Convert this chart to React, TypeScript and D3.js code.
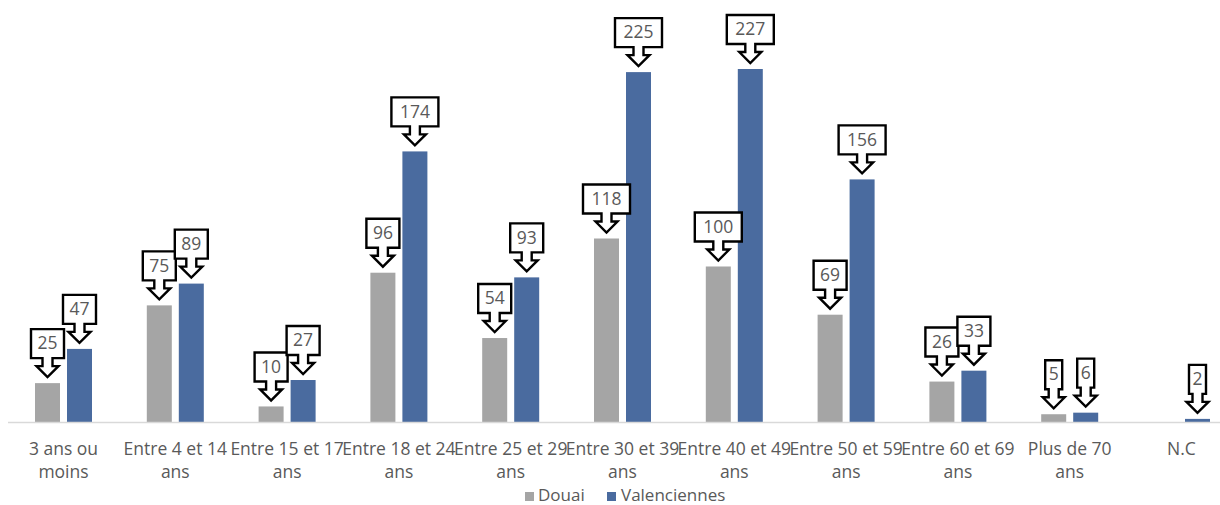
import React from "react";
import * as d3 from "d3";

const categories: string[][] = [
  ["3 ans ou", "moins"],
  ["Entre 4 et 14", "ans"],
  ["Entre 15 et 17", "ans"],
  ["Entre 18 et 24", "ans"],
  ["Entre 25 et 29", "ans"],
  ["Entre 30 et 39", "ans"],
  ["Entre 40 et 49", "ans"],
  ["Entre 50 et 59", "ans"],
  ["Entre 60 et 69", "ans"],
  ["Plus de 70", "ans"],
  ["N.C"],
];
const douai: (number | null)[] = [25, 75, 10, 96, 54, 118, 100, 69, 26, 5, null];
const valenciennes: (number | null)[] = [47, 89, 27, 174, 93, 225, 227, 156, 33, 6, 2];
const seriesNames = ["Douai", "Valenciennes"];
const seriesColors = ["#a5a5a5", "#4a6b9f"];

const W = 1220;
const H = 505;
const FONT = "'Open Sans', Lato, sans-serif";
const TEXT = "#595959";

function Callout({ cx, top, value }: { cx: number; top: number; value: number }) {
  const label = String(value);
  const boxW = label.length === 1 ? 17 : label.length === 2 ? 33 : 47;
  const boxH = 29;
  const tip = top - 6;
  const headTop = tip - 11;
  const boxBottom = headTop - 8;
  const boxTop = boxBottom - boxH;
  const sh = 5;
  const hh = 11;
  const l = cx - boxW / 2;
  const r = cx + boxW / 2;
  const path = [
    `M${l},${boxTop}`,
    `L${r},${boxTop}`,
    `L${r},${boxBottom}`,
    `L${cx + sh},${boxBottom}`,
    `L${cx + sh},${headTop}`,
    `L${cx + hh},${headTop}`,
    `L${cx},${tip}`,
    `L${cx - hh},${headTop}`,
    `L${cx - sh},${headTop}`,
    `L${cx - sh},${boxBottom}`,
    `L${l},${boxBottom}`,
    "Z",
  ].join("");
  return (
    <g>
      <path d={path} fill="#fff" stroke="#000" strokeWidth={2.4} strokeLinejoin="miter" />
      <text
        x={cx}
        y={(boxTop + boxBottom) / 2 + 1}
        textAnchor="middle"
        dominantBaseline="middle"
        fontSize={17.5}
        fill={TEXT}
        fontFamily={FONT}
      >
        {label}
      </text>
    </g>
  );
}

export default function App() {
  const baseline = 422;
  const x = d3
    .scaleBand<number>()
    .domain(categories.map((_, i) => i))
    .range([7.6, 7.6 + 11 * 111.8])
    .paddingInner(0)
    .paddingOuter(0);
  const y = d3.scaleLinear().domain([0, 227]).range([baseline, 69]);
  const barW = 25;
  const offsets = [-28.5, 3.5];
  const series = [douai, valenciennes];

  return (
    <svg
      width={W}
      height={H}
      style={{ position: "absolute", left: 0, top: 0, background: "#fff" }}
      fontFamily={FONT}
    >
      <rect width={W} height={H} fill="#fff" />
      {series.map((vals, s) =>
        vals.map((v, i) => {
          if (v == null) return null;
          const cx = (x(i) as number) + x.bandwidth() / 2;
          const x0 = cx + offsets[s];
          return (
            <rect
              key={`b${s}-${i}`}
              x={x0}
              y={y(v)}
              width={barW}
              height={baseline - y(v)}
              fill={seriesColors[s]}
            />
          );
        })
      )}
      <line x1={8} x2={W} y1={baseline + 0.5} y2={baseline + 0.5} stroke="#d9d9d9" strokeWidth={1.3} />
      {series.map((vals, s) =>
        vals.map((v, i) => {
          if (v == null) return null;
          const cx = (x(i) as number) + x.bandwidth() / 2 + offsets[s] + barW / 2;
          return <Callout key={`c${s}-${i}`} cx={cx} top={y(v)} value={v} />;
        })
      )}
      {categories.map((lines, i) => {
        const cx = (x(i) as number) + x.bandwidth() / 2;
        return (
          <text key={`t${i}`} textAnchor="middle" fontSize={17.5} fill={TEXT}>
            {lines.map((ln, k) => (
              <tspan key={k} x={cx} y={455 + k * 23}>
                {ln}
              </tspan>
            ))}
          </text>
        );
      })}
      <g>
        <rect x={525} y={492} width={9} height={9} fill={seriesColors[0]} />
        <text x={538} y={500.5} fontSize={17} fill={TEXT}>
          {seriesNames[0]}
        </text>
        <rect x={607} y={492} width={9} height={9} fill={seriesColors[1]} />
        <text x={621} y={500.5} fontSize={17} fill={TEXT}>
          {seriesNames[1]}
        </text>
      </g>
    </svg>
  );
}
